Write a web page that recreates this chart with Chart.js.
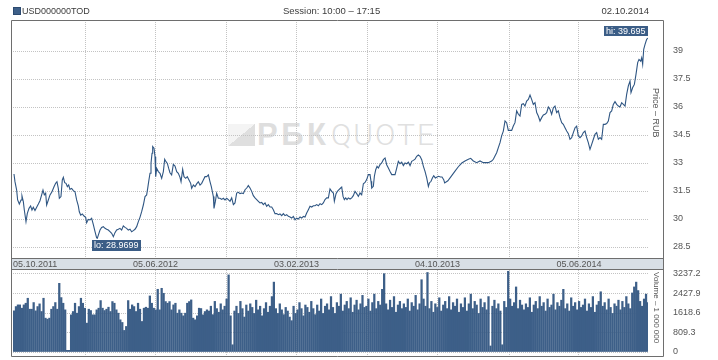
<!DOCTYPE html>
<html>
<head>
<meta charset="utf-8">
<title>USD000000TOD</title>
<script src="https://cdn.jsdelivr.net/npm/chart.js@4.4.1/dist/chart.umd.min.js"></script>
<style>
  body { margin: 0; background: #fff; }
  #wrap { position: relative; width: 718px; height: 360px; overflow: hidden;
          font-family: "Liberation Sans", Arial, sans-serif; color: #3c3c3c; }
  .txt { position: absolute; font-size: 9.5px; line-height: 12px; white-space: nowrap; }
  .sq { display: inline-block; width: 6px; height: 6px; background: #3d5f88; border: 1px solid #2c4a70;
        vertical-align: -1px; margin-right: 1px; }
  .vert { position: absolute; writing-mode: vertical-rl; color: #555; white-space: nowrap; }
  canvas { position: absolute; left: 0; }
  .mk { position: absolute; white-space: nowrap; line-height: 30px; font-size: 30px; }
</style>
</head>
<body>
<div id="wrap">
  <!-- watermark -->
  <div class="mk" style="left:228px;top:124px;width:27px;height:22px;background:linear-gradient(to bottom right,#f4f4f4 50%,#dfdfdf 50%);"></div>
  <div class="mk" style="left:257px;top:120px;font-size:31px;font-weight:bold;color:#dedede;letter-spacing:3.5px;">РБК</div>
  <div class="mk" style="left:331px;top:120px;font-family:Roboto,sans-serif;font-weight:300;color:#e0e0e0;letter-spacing:2px;">QUOTE</div>

  <canvas id="priceChart" width="718" height="270" style="top:0"></canvas>
  <canvas id="volumeChart" width="718" height="90" style="top:270px"></canvas>

  <div class="txt" style="left:13px;top:5px;font-size:9px"><span class="sq"></span>USD000000TOD</div>
  <div class="txt" style="left:283px;top:5px">Session: 10:00 – 17:15</div>
  <div class="txt" style="right:69px;top:5px">02.10.2014</div>
  <div class="txt" id="firstDate" style="left:13px;top:258px;font-size:9px;color:#555"></div>
  <div class="vert" style="left:651px;top:88px;font-size:9px;">Price – RUB</div>
  <div class="vert" style="left:652px;top:272px;font-size:8px;">Volume – 1 000 000</div>
</div>

<script>
// dates (DD.MM.YYYY)
const startDate = '05.10.2011';
const endDate = '02.10.2014';
const gridDates = ['05.02.2012', '05.06.2012', '05.10.2012', '03.02.2013',
                   '05.06.2013', '04.10.2013', '05.02.2014', '05.06.2014'];
const labelDates = ['05.06.2012', '03.02.2013', '04.10.2013', '05.06.2014'];

const priceTicks = [28.5, 30, 31.5, 33, 34.5, 36, 37.5, 39];
const volumeTicks = [0, 809.3, 1618.6, 2427.9, 3237.2];

// price: days since startDate / close, RUB
const priceDay = [
  0, 1.7, 4.6, 6.3, 9.2, 12.1, 13.8, 16.1, 17.8, 20.7,
  23.0, 25.9, 28.7, 31.0, 33.3, 36.2, 39.1, 42.0, 44.8, 47.7,
  50.0, 52.3, 54.6, 56.3, 59.2, 62.1, 65.5, 69.0, 71.8, 74.1,
  76.4, 78.2, 81.0, 83.3, 85.1, 87.4, 89.7, 92.0, 94.3, 96.5,
  99.4, 102.3, 105.2, 108.0, 110.9, 112.6, 115.0, 117.8, 120.7, 123.6,
  125.3, 128.2, 131.0, 133.9, 136.8, 139.6, 142.5, 143.7, 145.4, 148.3,
  151.1, 154.0, 156.9, 159.8, 162.6, 165.5, 168.4, 171.3, 174.1, 177.0,
  179.9, 182.7, 185.6, 188.5, 191.4, 194.2, 197.1, 200.0, 202.9, 205.7,
  208.6, 211.5, 214.4, 217.2, 220.1, 223.0, 225.9, 228.7, 230.5, 232.2,
  234.5, 236.2, 238.0, 239.1, 241.4, 243.1, 244.3, 246.0, 248.9, 251.7,
  254.6, 257.5, 259.8, 262.1, 264.4, 266.7, 268.9, 271.8, 274.7, 277.6,
  280.5, 283.3, 286.2, 288.0, 290.8, 293.1, 296.0, 298.8, 301.7, 304.6,
  306.3, 309.2, 312.1, 314.9, 317.8, 320.7, 323.6, 326.4, 329.3, 332.2,
  335.1, 337.9, 340.2, 342.0, 343.7, 344.8, 347.1, 349.4, 352.3, 355.2,
  358.0, 360.9, 363.8, 366.7,
  369.5, 372.4, 375.3, 378.2, 381.0, 383.9, 386.8, 389.7, 392.5, 395.4,
  398.3, 401.2, 404.0, 406.9, 409.8, 412.6, 415.5, 418.4, 421.3, 424.1,
  427.0, 429.9, 432.8, 435.6, 438.5, 441.4, 444.3, 447.1, 450.0, 452.9,
  455.8, 458.6, 461.5, 464.4, 467.2, 470.1, 473.0, 475.9, 478.7, 481.6,
  484.5, 487.4, 490.2, 493.1, 496.0, 498.9, 501.7, 504.6, 507.5, 510.3,
  513.2, 516.1, 519.0, 521.8, 524.7, 527.6, 530.5, 533.3, 536.2, 539.1,
  542.0, 544.8, 547.7, 550.6, 552.3, 555.2, 557.5, 560.3, 563.2, 565.0,
  567.3, 569.5, 571.8, 574.1, 576.4, 579.3, 582.2, 585.0, 587.9, 590.8,
  593.7, 596.5, 599.4, 602.3, 605.2, 608.0, 610.9, 613.8, 615.5, 616.7,
  619.5, 621.3, 623.6, 625.9, 628.2, 631.0, 633.9, 636.8, 639.7, 642.5,
  645.4, 648.3, 651.2, 654.0, 656.9, 659.8, 662.6, 665.5, 668.4, 671.3,
  674.1, 677.0, 679.9, 682.8, 685.6, 688.5, 691.4, 694.3, 697.1, 700.0,
  702.9, 705.8, 708.6, 711.5, 714.4, 716.1, 719.0, 721.3, 723.6, 726.4,
  729.3, 732.2, 735.1, 737.9, 740.8, 742.5, 748, 754, 760, 766,
  772,
  777.5, 783.3, 787.3, 791.9, 797.6, 803.4, 809.1, 817.7, 823.5, 826.4,
  829.2, 832.1, 835.0, 837.9, 840.7, 843.6, 846.5, 849.3, 852.2, 855.1,
  858.0, 860.8, 863.7, 866.6, 869.5, 872.3, 875.2, 878.1, 880.9, 883.8,
  886.7, 889.6, 892.4, 895.3, 898.2, 901.1, 903.9, 906.8, 909.7, 912.6,
  915.4, 918.3, 921.2, 924.0, 926.9, 929.8, 932.7, 935.5, 938.4, 941.3,
  944.2, 947.0, 949.9, 952.8, 955.7, 958.5, 961.4, 964.3, 967.2, 970.0,
  972.9, 975.8, 978.6, 981.5, 984.4, 987.3, 990.1, 993.0, 995.9, 998.8,
  1001.6, 1004.5, 1007.4, 1010.3, 1013.1, 1016.0, 1018.9, 1021.8, 1024.6, 1027.5,
  1030.4, 1033.2, 1036.1, 1039.0, 1041.9, 1044.7, 1047.6, 1050.5, 1053.4, 1056.2,
  1059.1, 1062.0, 1063.7, 1066.6, 1069.5, 1072.3, 1075.2, 1077.5, 1080.4, 1082.1,
  1083.8, 1085.6, 1087.9, 1090.7, 1093
];
const priceClose = [
  32.41, 32.00, 31.55, 31.02, 30.80, 31.02, 31.23, 30.93, 30.48, 29.86,
  30.30, 30.57, 30.70, 30.48, 30.63, 30.45, 30.63, 30.80, 30.98, 31.29,
  31.55, 31.29, 31.38, 30.75, 31.02, 31.29, 31.46, 31.73, 31.91, 32.00,
  31.64, 31.11, 31.20, 32.09, 32.23, 31.95, 31.91, 31.73, 31.82, 31.59,
  31.64, 31.52, 31.46, 31.02, 30.70, 30.39, 30.21, 30.27, 30.16, 30.09,
  29.80, 29.98, 29.95, 30.04, 29.70, 29.34, 28.99, 28.9699, 29.14, 29.41,
  29.55, 29.59, 29.50, 29.45, 29.41, 29.32, 29.23, 29.05, 29.27, 29.41,
  29.45, 29.50, 29.41, 29.63, 29.55, 29.50, 29.41, 29.45, 29.32, 29.38,
  29.45, 29.59, 29.86, 30.09, 30.39, 30.75, 31.20, 31.29, 31.64, 32.00,
  32.45, 32.98, 33.52, 33.88, 33.79, 33.34, 32.27, 32.71, 32.54, 32.45,
  32.18, 32.54, 33.20, 33.07, 32.98, 32.71, 32.48, 32.36, 32.93, 32.84,
  32.54, 32.45, 32.23, 32.00, 32.66, 32.27, 32.18, 32.27, 32.09, 31.91,
  31.64, 31.82, 31.73, 31.88, 32.00, 31.82, 31.91, 32.09, 32.27, 32.27,
  32.36, 32.00, 31.73, 31.46, 31.20, 30.57, 30.93, 31.38, 31.11, 31.11,
  31.05, 31.11, 31.02, 31.11,
  31.04, 30.95, 31.13, 30.77, 30.86, 31.39, 31.43, 31.36, 31.39, 31.36,
  31.57, 31.66, 31.79, 31.66, 31.48, 31.25, 31.13, 31.04, 30.95, 30.86,
  30.89, 30.77, 30.86, 30.68, 30.77, 30.64, 30.64, 30.50, 30.29, 30.29,
  30.23, 30.27, 30.18, 30.29, 30.18, 30.23, 30.14, 30.11, 30.05, 30.14,
  29.96, 30.05, 30.00, 30.11, 30.05, 30.14, 30.11, 30.32, 30.50, 30.68,
  30.64, 30.71, 30.71, 30.77, 30.71, 30.82, 30.77, 30.86, 31.04, 31.13,
  31.13, 31.61, 31.48, 31.39, 30.95, 31.36, 31.48, 31.57, 31.66, 31.71,
  31.21, 31.04, 31.13, 31.04, 31.13, 31.07, 31.13, 31.25, 31.48, 31.36,
  31.21, 31.39, 31.30, 31.89, 31.96, 32.11, 32.38, 32.38, 32.02, 31.66,
  31.75, 32.29, 32.64, 32.82, 32.73, 32.91, 33.00, 33.18, 33.27, 32.91,
  32.73, 32.55, 32.38, 32.38, 32.38, 32.73, 33.09, 32.96, 33.04, 32.86,
  33.00, 32.96, 33.04, 32.86, 33.09, 33.14, 33.21, 33.36, 33.43, 33.36,
  33.18, 32.82, 32.55, 32.20, 31.75, 31.93, 32.02, 32.20, 32.32, 32.20,
  32.25, 32.29, 32.25, 32.25, 32.11, 31.93, 32.05, 32.30, 32.55, 32.80,
  33.00,
  33.11, 33.20, 33.25, 33.11, 33.02, 33.11, 33.02, 33.02, 33.11, 33.20,
  33.38, 33.55, 33.82, 34.09, 34.45, 34.71, 35.25, 35.16, 34.75, 34.75,
  34.75, 34.98, 35.16, 35.79, 35.61, 35.52, 36.14, 36.18, 36.05, 36.32,
  36.41, 36.64, 36.41, 36.14, 36.23, 35.70, 35.52, 35.25, 35.43, 35.57,
  35.61, 35.70, 36.00, 35.88, 35.61, 35.96, 36.05, 35.70, 35.79, 35.43,
  35.16, 35.07, 34.89, 34.71, 34.57, 34.27, 34.36, 34.63, 34.89, 34.98,
  34.45, 34.36, 34.45, 34.63, 34.71, 34.36, 34.09, 33.73, 34.00, 34.27,
  34.54, 34.63, 34.27, 34.36, 34.27, 35.07, 35.07, 35.11, 35.25, 35.70,
  35.79, 36.14, 36.29, 36.14, 36.05, 36.00, 36.23, 36.14, 36.05, 36.68,
  37.13, 37.39, 36.77, 37.04, 37.21, 37.75, 38.38, 38.55, 38.46, 38.64,
  38.29, 39.09, 39.36, 39.63, 39.695
];

// volume, mln (evenly spaced sessions from startDate to endDate)
const volume = [
  1708, 1886, 1955, 1955, 1818, 1955, 2024, 2231, 1776, 1776,
  2052, 1708, 1886, 1997, 1680, 2231, 1405, 1363, 1405, 1776,
  1886, 2052, 1776, 2850, 2258, 2024, 1749, 69, 69, 1542,
  1680, 2024, 1611, 1886, 2231, 2024, 1818, 1198, 1776, 1721,
  1542, 1542, 1749, 1818, 2134, 1818, 1721, 1776, 1859, 1680,
  2093, 2024, 1749, 1611, 1336, 1226, 895, 1060, 2134, 1776,
  1955, 1886, 1680, 2024, 1776, 1267, 1818, 1859, 1818, 2327,
  2024, 1818, 1749, 2603, 1749, 2644, 2437, 2093, 2024, 2093,
  1749, 1955, 2024, 1611, 1749, 1611, 1501, 1611, 2024, 2093,
  2162, 1405, 1336, 1501, 1818, 1804, 1542, 1680, 1749,
  1700, 1900, 1550, 2100, 1800, 1650, 2000, 1750, 1900, 2200,
  3200, 1500, 300, 1700, 1900, 1600, 2100, 1800, 1450, 1950,
  1700, 2000, 1850, 1600, 2150, 1750, 1900, 1500, 1800, 2050,
  1650, 1900, 2300, 2900, 1800, 1600, 2000, 1750, 1550, 1850,
  1700, 1450, 1300, 1900, 1600, 1750, 2050, 1800, 1500, 1950,
  1850, 1650, 2100, 1800, 1550, 1950, 1700, 2200, 1600, 1900,
  2000, 1750, 2300, 1850, 1600, 2050, 1900, 2400, 1700, 1950,
  2100, 1800, 2250, 1650, 1950, 2150, 1750, 2000, 2350, 1850,
  1900, 2200, 1700, 2050, 2400, 1800, 2100, 1950, 2600, 3250,
  2000, 1750, 2150, 1850, 2300, 1650, 1950, 2100, 1800, 2000,
  1850, 2200, 1700, 2050, 1900, 2350, 1750, 2000, 3000, 2200,
  1900, 3300, 1800, 2100, 1650, 2000, 1850, 2250, 1700, 1950,
  2100, 1800, 2300, 1750, 2050, 1900, 2200, 1650, 2000, 1850,
  2250, 1700, 2000, 2400, 1800, 2100, 1950, 1600, 2200, 1850,
  2050, 1750, 2300, 250, 1900, 2150, 1800, 2000, 1700, 300,
  2100, 1850, 3350, 2200, 1900, 2050, 2700, 1800, 2150, 1950,
  1750, 2000, 1850, 2250, 1650, 1950, 2100, 1800, 2300, 1900,
  2050, 1700, 2200, 1850, 1950, 2400, 1750, 2050, 1900, 2150,
  2600, 1800, 2000, 1700, 2250, 1900, 2050, 1750, 2100, 1850,
  1950, 2200, 1700, 2000, 1850, 2300, 1650, 1950, 2100, 2500,
  1900, 2050, 1750, 2200, 1850, 1600, 2000, 1900, 2150, 1750,
  2100, 1850, 2300, 2000, 1800, 2450, 2700, 2900, 2550, 2100,
  1900, 2200, 2400, 2050
];

function dayOf(s) {
  const [d, m, y] = s.split('.').map(Number);
  const [d0, m0, y0] = startDate.split('.').map(Number);
  return Math.round((Date.UTC(y, m - 1, d) - Date.UTC(y0, m0 - 1, d0)) / 86400000);
}
const lastDay = dayOf(endDate);
const gridDays = gridDates.map(dayOf);
const labelByDay = {};
labelDates.forEach(s => { labelByDay[dayOf(s)] = s; });
document.getElementById('firstDate').textContent = startDate;

const FONT = { family: '"Liberation Sans", Arial, sans-serif', size: 9 };
const GRID = '#c3c3c3';

function xAxis(showLabels) {
  return {
    type: 'linear', min: -1.7, max: lastDay, offset: false,
    afterBuildTicks: s => { s.ticks = gridDays.map(v => ({ value: v })); },
    afterFit: s => { s.height = showLabels ? 11 : 0; s.paddingLeft = 0; s.paddingRight = 0; },
    grid: { color: GRID, drawTicks: false, offset: false },
    border: { display: false, dash: [1, 1] },
    ticks: {
      display: showLabels, autoSkip: false, maxRotation: 0, padding: 1,
      color: '#555', font: FONT,
      callback: v => labelByDay[v] || ''
    }
  };
}

function yAxis(min, max, ticks) {
  return {
    position: 'right', min: min, max: max,
    afterBuildTicks: s => { s.ticks = ticks.map(v => ({ value: v })); },
    afterFit: s => { s.width = 70; s.paddingTop = 0; s.paddingBottom = 0; },
    grid: { color: GRID, drawTicks: false },
    border: { display: false, dash: [1, 1] },
    ticks: { padding: 25, color: '#555', font: FONT, callback: v => String(v) }
  };
}

// band under price panel + frame lines
const priceFrame = {
  id: 'priceFrame',
  beforeDraw(chart) {
    const ctx = chart.ctx;
    ctx.save();
    ctx.fillStyle = '#d8dfe6';
    ctx.fillRect(11, 258, 653, 11);
    ctx.restore();
  },
  afterDraw(chart) {
    const ctx = chart.ctx;
    ctx.save();
    ctx.strokeStyle = '#6e6e6e';
    ctx.lineWidth = 1;
    ctx.beginPath();
    ctx.moveTo(11.5, 270); ctx.lineTo(11.5, 20.5); ctx.lineTo(663.5, 20.5); ctx.lineTo(663.5, 270);
    ctx.moveTo(11, 258.5); ctx.lineTo(664, 258.5);
    ctx.moveTo(11, 269.5); ctx.lineTo(664, 269.5);
    ctx.stroke();
    ctx.restore();
  }
};

// lo / hi tags
const extremaTags = {
  id: 'extremaTags',
  afterDatasetsDraw(chart) {
    const { ctx, scales: { x, y } } = chart;
    let lo = 0, hi = 0;
    priceClose.forEach((v, i) => {
      if (v < priceClose[lo]) lo = i;
      if (v > priceClose[hi]) hi = i;
    });
    ctx.save();
    ctx.font = '9px "Liberation Sans", Arial, sans-serif';
    ctx.textBaseline = 'middle';
    const tag = (text, left, top, h) => {
      const w = Math.ceil(ctx.measureText(text).width) + 4;
      ctx.fillStyle = '#3b5d86';
      ctx.fillRect(left, top, w, h);
      ctx.fillStyle = '#fff';
      ctx.fillText(text, left + 2, top + h / 2 + 0.5);
      return w;
    };
    const lx = x.getPixelForValue(priceDay[lo]);
    const ly = y.getPixelForValue(priceClose[lo]);
    tag('lo: ' + priceClose[lo], Math.round(lx) - 5, Math.round(ly) + 2, 11);
    const hx = x.getPixelForValue(priceDay[hi]);
    const hy = y.getPixelForValue(priceClose[hi]);
    const hiText = 'hi: ' + priceClose[hi];
    const hw = Math.ceil(ctx.measureText(hiText).width) + 4;
    tag(hiText, Math.round(hx) - hw, Math.round(hy) - 12, 10);
    ctx.restore();
  }
};

const volumeFrame = {
  id: 'volumeFrame',
  afterDraw(chart) {
    const ctx = chart.ctx;
    ctx.save();
    ctx.strokeStyle = '#6e6e6e';
    ctx.lineWidth = 1;
    ctx.beginPath();
    ctx.moveTo(11.5, 0); ctx.lineTo(11.5, 86.5); ctx.lineTo(663.5, 86.5); ctx.lineTo(663.5, 0);
    ctx.stroke();
    ctx.restore();
  }
};

new Chart(document.getElementById('priceChart'), {
  type: 'line',
  data: {
    datasets: [{
      data: priceDay.map((d, i) => ({ x: d, y: priceClose[i] })),
      borderColor: '#2f5683',
      borderWidth: 1.1,
      pointRadius: 0,
      tension: 0,
      fill: false
    }]
  },
  options: {
    responsive: false,
    animation: false,
    layout: { padding: { left: 13, top: 20, right: 0, bottom: 1 } },
    plugins: { legend: { display: false }, tooltip: { enabled: false } },
    scales: {
      x: xAxis(true),
      y: yAxis(27.911, 40.661, priceTicks)
    }
  },
  plugins: [priceFrame, extremaTags]
});

const volStep = lastDay / (volume.length - 1);
new Chart(document.getElementById('volumeChart'), {
  type: 'bar',
  data: {
    datasets: [{
      data: volume.map((v, i) => ({ x: i * volStep, y: v })),
      backgroundColor: '#3d5f88',
      barThickness: 1.6
    }]
  },
  options: {
    responsive: false,
    animation: false,
    layout: { padding: { left: 13, top: 0, right: 0, bottom: 4 } },
    plugins: { legend: { display: false }, tooltip: { enabled: false } },
    scales: {
      x: xAxis(false),
      y: yAxis(-166, 3403.2, volumeTicks)
    }
  },
  plugins: [volumeFrame]
});
</script>
</body>
</html>
